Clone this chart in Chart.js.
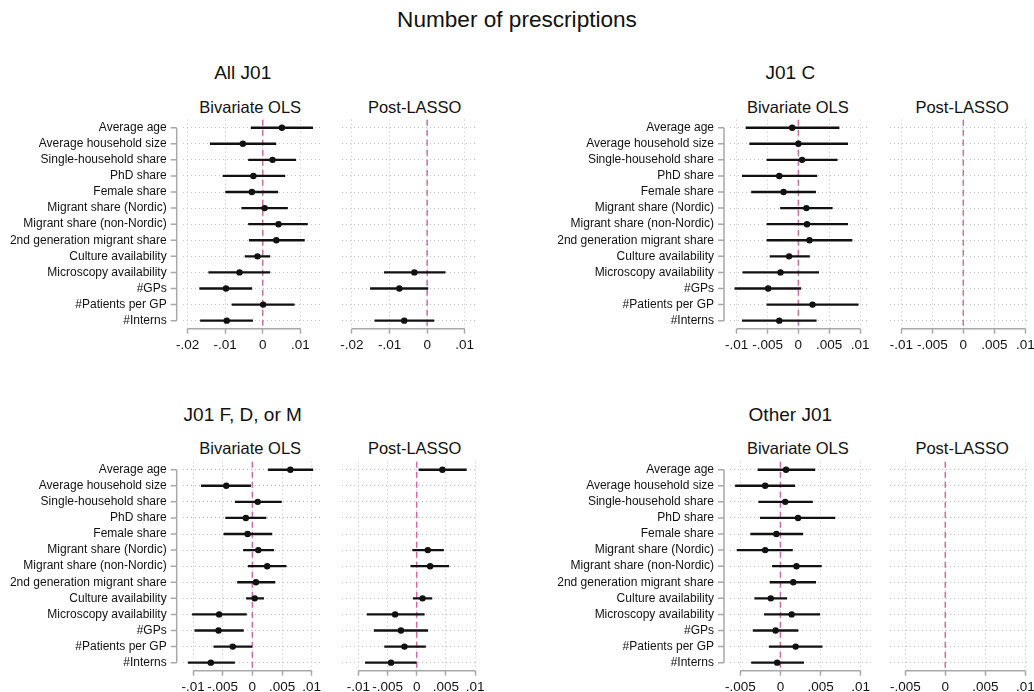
<!DOCTYPE html>
<html>
<head>
<meta charset="utf-8">
<script src="https://cdn.jsdelivr.net/npm/chart.js@4.4.1/dist/chart.umd.min.js"></script>
<style>
  body { margin: 0; background: #fff; }
  #page { position: relative; width: 1034px; height: 692px; overflow: hidden; font-family: "Liberation Sans", Arial, sans-serif; color: #111; }
  .txt { position: absolute; white-space: nowrap; text-align: center; line-height: 1; }
  canvas { position: absolute; }
</style>
</head>
<body>
<div id="page">
  <div class="txt" style="left:317px;width:400px;top:9px;font-size:22.6px;">Number of prescriptions</div>

  <div class="txt" style="left:42.7px;width:400px;top:63px;font-size:19px;">All J01</div>
  <div class="txt" style="left:590.3px;width:400px;top:63px;font-size:19px;">J01 C</div>
  <div class="txt" style="left:42.7px;width:400px;top:405px;font-size:19px;">J01 F, D, or M</div>
  <div class="txt" style="left:590.3px;width:400px;top:405px;font-size:19px;">Other J01</div>

  <div class="txt" style="left:150.2px;width:200px;top:98.5px;font-size:16.5px;">Bivariate OLS</div>
  <div class="txt" style="left:314.7px;width:200px;top:98.5px;font-size:16.5px;">Post-LASSO</div>
  <div class="txt" style="left:697.8px;width:200px;top:98.5px;font-size:16.5px;">Bivariate OLS</div>
  <div class="txt" style="left:862.2px;width:200px;top:98.5px;font-size:16.5px;">Post-LASSO</div>
  <div class="txt" style="left:150.2px;width:200px;top:440px;font-size:16.5px;">Bivariate OLS</div>
  <div class="txt" style="left:314.7px;width:200px;top:440px;font-size:16.5px;">Post-LASSO</div>
  <div class="txt" style="left:697.8px;width:200px;top:440px;font-size:16.5px;">Bivariate OLS</div>
  <div class="txt" style="left:862.2px;width:200px;top:440px;font-size:16.5px;">Post-LASSO</div>
</div>
<script>
const rows = [
  "Average age", "Average household size", "Single-household share", "PhD share",
  "Female share", "Migrant share (Nordic)", "Migrant share (non-Nordic)",
  "2nd generation migrant share", "Culture availability", "Microscopy availability",
  "#GPs", "#Patients per GP", "#Interns"
];

// All J01
const allOlsEst = [0.0051, -0.0053, 0.0026, -0.0025, -0.0029, 0.0005, 0.0042, 0.0036, -0.0014, -0.0062, -0.0098, 0.0001, -0.0096];
const allOlsLo  = [-0.0031, -0.0140, -0.0038, -0.0106, -0.0099, -0.0056, -0.0038, -0.0036, -0.0047, -0.0144, -0.0168, -0.0082, -0.0166];
const allOlsHi  = [0.0133, 0.0035, 0.0088, 0.0059, 0.0040, 0.0066, 0.0119, 0.0111, 0.0019, 0.0019, -0.0029, 0.0084, -0.0027];
const allLassoEst = [null, null, null, null, null, null, null, null, null, -0.0034, -0.0074, null, -0.0061];
const allLassoLo  = [null, null, null, null, null, null, null, null, null, -0.0114, -0.0151, null, -0.0139];
const allLassoHi  = [null, null, null, null, null, null, null, null, null, 0.0048, 0.0002, null, 0.0018];

// J01 C
const cOlsEst = [-0.0010, 0.0000, 0.0006, -0.0031, -0.0024, 0.0013, 0.0014, 0.0018, -0.0015, -0.0029, -0.0049, 0.0023, -0.0031];
const cOlsLo  = [-0.0085, -0.0079, -0.0051, -0.0091, -0.0076, -0.0029, -0.0051, -0.0051, -0.0046, -0.0090, -0.0103, -0.0051, -0.0091];
const cOlsHi  = [0.0066, 0.0080, 0.0063, 0.0030, 0.0028, 0.0055, 0.0080, 0.0087, 0.0018, 0.0033, 0.0004, 0.0097, 0.0029];
const cLassoEst = [null, null, null, null, null, null, null, null, null, null, null, null, null];
const cLassoLo  = [null, null, null, null, null, null, null, null, null, null, null, null, null];
const cLassoHi  = [null, null, null, null, null, null, null, null, null, null, null, null, null];

// J01 F, D, or M
const fdmOlsEst = [0.0064, -0.0044, 0.0009, -0.0011, -0.0008, 0.0010, 0.0025, 0.0006, 0.0004, -0.0056, -0.0057, -0.0033, -0.0070];
const fdmOlsLo  = [0.0027, -0.0086, -0.0029, -0.0045, -0.0048, -0.0015, -0.0007, -0.0025, -0.0010, -0.0101, -0.0097, -0.0065, -0.0108];
const fdmOlsHi  = [0.0102, -0.0003, 0.0049, 0.0023, 0.0033, 0.0036, 0.0057, 0.0038, 0.0019, -0.0010, -0.0015, 0.0000, -0.0030];
const fdmLassoEst = [0.0044, null, null, null, null, 0.0019, 0.0023, null, 0.0010, -0.0037, -0.0027, -0.0021, -0.0044];
const fdmLassoLo  = [0.0004, null, null, null, null, -0.0007, -0.0010, null, -0.0006, -0.0085, -0.0073, -0.0055, -0.0088];
const fdmLassoHi  = [0.0085, null, null, null, null, 0.0046, 0.0055, null, 0.0026, 0.0013, 0.0019, 0.0015, 0.0000];

// Other J01
const otherOlsEst = [0.0007, -0.0019, 0.0006, 0.0022, -0.0005, -0.0019, 0.0020, 0.0016, -0.0012, 0.0014, -0.0006, 0.0019, -0.0004];
const otherOlsLo  = [-0.0028, -0.0056, -0.0027, -0.0025, -0.0037, -0.0054, -0.0010, -0.0013, -0.0032, -0.0020, -0.0034, -0.0014, -0.0036];
const otherOlsHi  = [0.0043, 0.0018, 0.0040, 0.0068, 0.0028, 0.0015, 0.0051, 0.0044, 0.0008, 0.0049, 0.0022, 0.0052, 0.0029];
const otherLassoEst = [null, null, null, null, null, null, null, null, null, null, null, null, null];
const otherLassoLo  = [null, null, null, null, null, null, null, null, null, null, null, null, null];
const otherLassoHi  = [null, null, null, null, null, null, null, null, null, null, null, null, null];

// x tick labels
const ticksAll = [-0.02, -0.01, 0, 0.01];
const ticksC = [-0.01, -0.005, 0, 0.005, 0.01];
const ticksFdm = [-0.01, -0.005, 0, 0.005, 0.01];
const ticksOther = [-0.005, 0, 0.005, 0.01];

const fontFamily = '"Liberation Sans", Arial, sans-serif';
const inkColor = "#111";
const axisGray = "#a8a8a8";
const gridGray = "#c4c4c4";
const zeroPink = "#cf6ca3";
const rowStep = 16.08;
const xAxisHeight = 30;

function formatTick(v) {
  if (v === 0) return "0";
  return String(+v.toPrecision(6)).replace("0.", ".");
}

const stataLook = {
  id: "stataLook",
  beforeDatasetsDraw(chart) {
    const ctx = chart.ctx;
    const area = chart.chartArea;
    const px = chart.scales.x.getPixelForValue(0);
    ctx.save();
    ctx.strokeStyle = zeroPink;
    ctx.lineWidth = 1.5;
    ctx.setLineDash([6, 4]);
    ctx.beginPath();
    ctx.moveTo(px, area.top);
    ctx.lineTo(px, area.bottom);
    ctx.stroke();
    ctx.restore();
  },
  afterDraw(chart, args, opts) {
    const ctx = chart.ctx;
    const area = chart.chartArea;
    const xs = chart.scales.x;
    const ys = chart.scales.y;
    const t = xs.ticks;
    ctx.save();
    ctx.strokeStyle = axisGray;
    ctx.lineWidth = 1.5;
    ctx.beginPath();
    ctx.moveTo(xs.getPixelForValue(t[0].value), area.bottom);
    ctx.lineTo(xs.getPixelForValue(t[t.length - 1].value), area.bottom);
    ctx.stroke();

    if (opts.yAxis) {
      const ax = area.left - 6;
      ctx.beginPath();
      ctx.moveTo(ax, ys.getPixelForValue(0));
      ctx.lineTo(ax, ys.getPixelForValue(rows.length - 1));
      rows.forEach((r, i) => {
        const py = ys.getPixelForValue(i);
        ctx.moveTo(ax, py);
        ctx.lineTo(ax - 6, py);
      });
      ctx.stroke();
    }
    ctx.restore();
  }
};

function drawPlot(p) {
  const areaBottom = p.top + rowStep * rows.length;
  const yWidth = p.labels ? 182 : 14;
  const canvasLeft = Math.floor(p.areaL - yWidth);
  const canvasTop = Math.floor(p.top) - 4;
  const padRight = 12;
  const width = Math.ceil(p.areaR - canvasLeft) + padRight;
  const height = Math.ceil(areaBottom - canvasTop) + xAxisHeight + 2;

  const canvas = document.createElement("canvas");
  canvas.width = width;
  canvas.height = height;
  canvas.style.left = canvasLeft + "px";
  canvas.style.top = canvasTop + "px";
  canvas.style.width = width + "px";
  canvas.style.height = height + "px";
  document.getElementById("page").appendChild(canvas);

  const ciData = p.lo.map((l, i) => (l == null ? null : [l, p.hi[i]]));
  const pointData = rows
    .map((r, i) => ({ x: p.est[i], y: r }))
    .filter(pt => pt.x != null);

  new Chart(canvas, {
    type: "bar",
    data: {
      labels: rows,
      datasets: [
        {
          type: "bar",
          data: ciData,
          backgroundColor: inkColor,
          borderWidth: 0,
          barThickness: 1.7,
          borderSkipped: false
        },
        {
          type: "scatter",
          data: pointData,
          backgroundColor: inkColor,
          borderWidth: 0,
          pointRadius: 3.2
        }
      ]
    },
    options: {
      indexAxis: "y",
      responsive: false,
      animation: false,
      events: [],
      layout: {
        padding: {
          left: p.areaL - yWidth - canvasLeft,
          top: p.top - canvasTop,
          right: canvasLeft + width - p.areaR,
          bottom: height - xAxisHeight - (areaBottom - canvasTop)
        }
      },
      plugins: {
        legend: { display: false },
        tooltip: { enabled: false },
        stataLook: { yAxis: !!p.labels }
      },
      scales: {
        x: {
          type: "linear",
          min: p.min,
          max: p.max,
          afterBuildTicks: axis => {
            axis.ticks = p.ticks.map(v => ({ value: v }));
          },
          afterFit: axis => {
            axis.height = xAxisHeight;
            axis.paddingLeft = 0;
            axis.paddingRight = 0;
          },
          border: { display: false, dash: [1, 3] },
          grid: {
            color: gridGray,
            lineWidth: 1,
            drawTicks: true,
            tickLength: 5,
            tickColor: axisGray,
            tickWidth: 1.5,
            tickBorderDash: []
          },
          ticks: {
            callback: v => formatTick(v),
            color: inkColor,
            padding: 3,
            maxRotation: 0,
            autoSkip: false,
            font: { family: fontFamily, size: 13.5 }
          }
        },
        y: {
          type: "category",
          offset: true,
          afterFit: axis => {
            axis.width = yWidth;
            axis.paddingTop = 0;
            axis.paddingBottom = 0;
          },
          border: { display: false, dash: [1, 3] },
          grid: {
            color: gridGray,
            lineWidth: 1,
            offset: false,
            drawTicks: false
          },
          ticks: {
            display: !!p.labels,
            autoSkip: false,
            padding: 16,
            color: inkColor,
            font: { family: fontFamily, size: 12 }
          }
        }
      }
    },
    plugins: [stataLook]
  });
}

const plots = [
  { est: allOlsEst, lo: allOlsLo, hi: allOlsHi, ticks: ticksAll, min: -0.02133, max: 0.01597, areaL: 182.7, areaR: 322.7, top: 119.66, labels: true },
  { est: allLassoEst, lo: allLassoLo, hi: allLassoHi, ticks: ticksAll, min: -0.02274, max: 0.01274, areaL: 341.7, areaR: 475, top: 119.66 },
  { est: cOlsEst, lo: cOlsLo, hi: cOlsHi, ticks: ticksC, min: -0.01109, max: 0.01162, areaL: 730, areaR: 870, top: 119.66, labels: true },
  { est: cLassoEst, lo: cLassoLo, hi: cLassoHi, ticks: ticksC, min: -0.01182, max: 0.01044, areaL: 890, areaR: 1028, top: 119.66 },
  { est: fdmOlsEst, lo: fdmOlsLo, hi: fdmOlsHi, ticks: ticksFdm, min: -0.01174, max: 0.0114, areaL: 182.7, areaR: 320, top: 461.66, labels: true },
  { est: fdmLassoEst, lo: fdmLassoLo, hi: fdmLassoHi, ticks: ticksFdm, min: -0.01285, max: 0.0105, areaL: 341.7, areaR: 478, top: 461.66 },
  { est: otherOlsEst, lo: otherOlsLo, hi: otherOlsHi, ticks: ticksOther, min: -0.00628, max: 0.01125, areaL: 730, areaR: 870.7, top: 461.66, labels: true },
  { est: otherLassoEst, lo: otherLassoLo, hi: otherLassoHi, ticks: ticksOther, min: -0.00691, max: 0.01034, areaL: 890, areaR: 1028, top: 461.66 }
];

plots.forEach(p => drawPlot(p));
</script>
</body>
</html>
